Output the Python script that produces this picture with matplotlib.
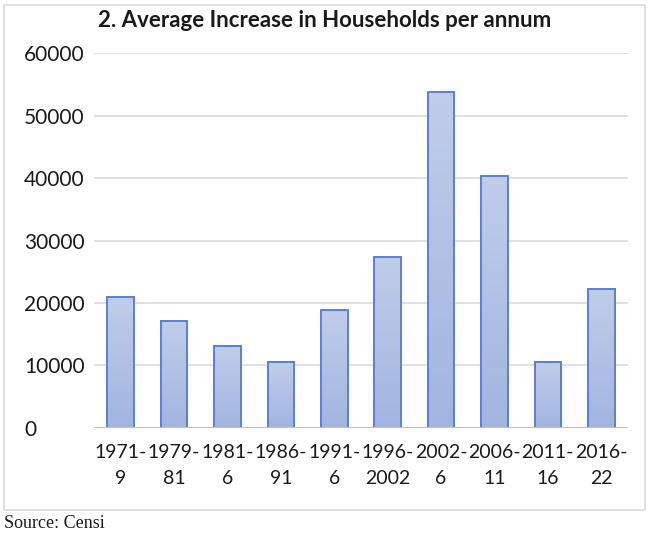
import numpy as np
import matplotlib
matplotlib.use('Agg')
from matplotlib import pyplot as plt
from matplotlib.colors import LinearSegmentedColormap
from matplotlib.patches import Rectangle

# Datos del grafico
periods = ['1971-\n9', '1979-\n81', '1981-\n6', '1986-\n91', '1991-\n6',
           '1996-\n2002', '2002-\n6', '2006-\n11', '2011-\n16', '2016-\n22']
increase = [20900, 17050, 13100, 10550, 18850, 27400, 53750, 40400, 10550, 22250]
y_ticks = [0, 10000, 20000, 30000, 40000, 50000, 60000]

title = '2. Average Increase in Households per annum'
source = 'Source: Censi'

plt.rcParams['font.family'] = ['Lato', 'DejaVu Sans']

fig = plt.figure(figsize=(6.5, 5.34), dpi=100)
ax = fig.add_axes([0.1446, 0.199, 0.8215, 0.701])

x = np.arange(len(periods))
bars = ax.bar(x, increase, width=0.5, facecolor='none',
              edgecolor='#5b7fd0', linewidth=1.4, zorder=3)

# Relleno en degradado para cada barra
cmap = LinearSegmentedColormap.from_list('grad', ['#a2b4e0', '#c0cde9'])
grad = np.linspace(0, 1, 256).reshape(-1, 1)
for b in bars:
    x0, w, h = b.get_x(), b.get_width(), b.get_height()
    im = ax.imshow(grad, extent=[x0, x0 + w, 0, h], origin='lower',
                   aspect='auto', cmap=cmap, zorder=2)
    im.set_clip_path(b)

ax.set_xlim(-0.5, len(periods) - 0.5)
ax.set_ylim(0, 60000)
ax.set_yticks(y_ticks)
ax.set_yticklabels([str(v) for v in y_ticks], ha='left')
ax.set_xticks(x)
ax.set_xticklabels(periods, linespacing=1.6)
ax.tick_params(axis='both', length=0, colors='#1a1a1a')
ax.tick_params(axis='y', pad=50.4, labelsize=15)
ax.tick_params(axis='x', pad=12, labelsize=14)

for s in ax.spines.values():
    s.set_visible(False)
ax.grid(axis='y', color='#d9d9d9', linewidth=1.2, zorder=0)
ax.axhline(0, color='#bfbfbf', linewidth=1.5, zorder=4)
ax.set_axisbelow(True)

fig.text(0.5, 1 - 20.5 / 534, title, ha='center', va='center',
         fontsize=16, fontweight='bold', color='#1a1a1a')
fig.text(4 / 650, 1 - 524 / 534, source, ha='left', va='center',
         fontsize=13, family=['Liberation Serif'], color='#1a1a1a')

# Borde del grafico
fig.patches.append(Rectangle((4 / 650, 1 - 510 / 534), 641 / 650, 505 / 534,
                             transform=fig.transFigure, fill=False,
                             edgecolor='#d9d9d9', linewidth=1.2))

fig.savefig('out.png', dpi=100)
